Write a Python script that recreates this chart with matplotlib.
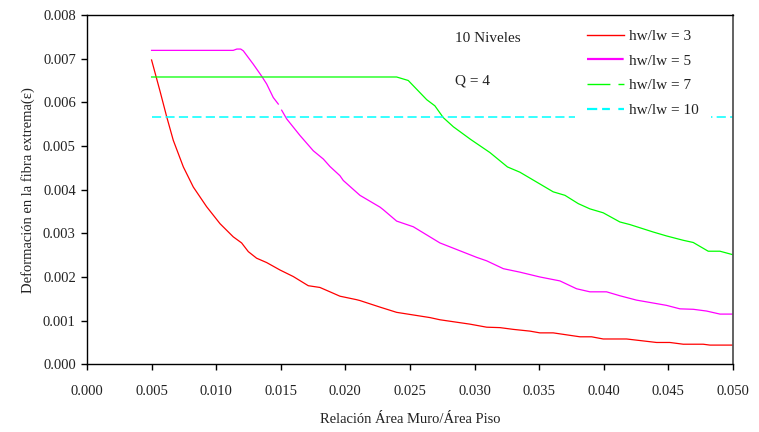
import numpy as np
import matplotlib
matplotlib.use("Agg")
import matplotlib.pyplot as plt
from matplotlib.lines import Line2D
from matplotlib.ticker import MultipleLocator, FormatStrFormatter

plt.rcParams['font.family'] = ['Liberation Serif', 'DejaVu Serif']

# Relación Área Muro / Área Piso vs deformación en la fibra extrema
x_hw3 = [0.0050, 0.00565, 0.00617, 0.00668, 0.00746, 0.00823, 0.00926, 0.0103,
         0.01132, 0.01197, 0.01249, 0.01313, 0.01391, 0.01494, 0.01597, 0.01713,
         0.01803, 0.01881, 0.01958, 0.02087, 0.02113, 0.02268, 0.02397, 0.02655,
         0.02732, 0.02964, 0.03094, 0.03197, 0.03300, 0.03429, 0.03506, 0.03609,
         0.03816, 0.03906, 0.03996, 0.04177, 0.04409, 0.04512, 0.04616, 0.04770,
         0.04822, 0.05000]
y_hw3 = [0.00697, 0.00626, 0.00567, 0.00513, 0.00452, 0.00406, 0.00361, 0.00322,
         0.00292, 0.00278, 0.00258, 0.00243, 0.00233, 0.00216, 0.00201, 0.00180,
         0.00176, 0.00166, 0.00156, 0.00148, 0.00146, 0.00131, 0.00119, 0.00107,
         0.00102, 0.00092, 0.00085, 0.00084, 0.00080, 0.00076, 0.00072, 0.00072,
         0.00063, 0.00063, 0.00058, 0.00058, 0.00050, 0.00050, 0.00046, 0.00046,
         0.00044, 0.00044]

x_hw5 = [0.0050, 0.01132, 0.0116, 0.0119, 0.0121, 0.01288, 0.01352, 0.01391,
         0.01442, 0.01481, 0.01494, 0.01507, 0.01546, 0.01649, 0.01752, 0.0183,
         0.01881, 0.01958, 0.01984, 0.02113, 0.02268, 0.02294, 0.02397, 0.02526,
         0.02732, 0.02887, 0.03016, 0.03094, 0.03223, 0.03352, 0.03506, 0.03661,
         0.0379, 0.03893, 0.04022, 0.04125, 0.04254, 0.04409, 0.04486, 0.0459,
         0.04693, 0.04796, 0.049, 0.0500]
y_hw5 = [0.00719, 0.00719, 0.00722, 0.00722, 0.00718, 0.00687, 0.0066, 0.00642,
         0.00611, 0.00596, np.nan, 0.00582, 0.00562, 0.00524, 0.00489, 0.0047,
         0.00453, 0.00432, 0.00421, 0.00387, 0.0036, 0.00354, 0.00328, 0.00315,
         0.00278, 0.0026, 0.00245, 0.00237, 0.00219, 0.00211, 0.0020, 0.00191,
         0.00173, 0.00166, 0.00166, 0.00157, 0.00147, 0.00139, 0.00135, 0.00127,
         0.00126, 0.00122, 0.00115, 0.00115]

x_hw7 = [0.0050, 0.02397, 0.02487, 0.02565, 0.0263, 0.02693, 0.02758, 0.02836,
         0.0297, 0.03119, 0.03255, 0.03351, 0.03506, 0.03609, 0.0370, 0.03803,
         0.03893, 0.03996, 0.04125, 0.04203, 0.04383, 0.04486, 0.04616, 0.04693,
         0.04809, 0.0490, 0.0500]
y_hw7 = [0.00658, 0.00658, 0.0065, 0.00626, 0.00606, 0.00592, 0.00565, 0.00544,
         0.00515, 0.00485, 0.00452, 0.0044, 0.00413, 0.00395, 0.00387, 0.00368,
         0.00356, 0.00347, 0.00326, 0.0032, 0.00303, 0.00294, 0.00284, 0.00279,
         0.00259, 0.00259, 0.00251]

x_hw10 = [0.0050, 0.0500]
y_hw10 = [0.00566, 0.00566]

labels = ["hw/lw = 3", "hw/lw = 5", "hw/lw = 7", "hw/lw = 10"]
colors = ["#ff0000", "#ff00ff", "#00ff00", "#00ffff"]

fig = plt.figure(figsize=(7.59, 4.32), dpi=100)
ax = fig.add_axes([0.1146, 0.1567, 0.851, 0.8086])

ax.plot(x_hw3, y_hw3, color=colors[0], lw=0.9)
ax.plot(x_hw5, y_hw5, color=colors[1], lw=0.9)
ax.plot(x_hw7, y_hw7, color=colors[2], lw=0.9)
ax.plot(x_hw10, y_hw10, color=colors[3], lw=1.1, dashes=(6.0, 2.8))

ax.set_xlim(0.0, 0.05)
ax.set_ylim(0.0, 0.008)
ax.xaxis.set_major_locator(MultipleLocator(0.005))
ax.yaxis.set_major_locator(MultipleLocator(0.001))
ax.xaxis.set_major_formatter(FormatStrFormatter('%.3f'))
ax.yaxis.set_major_formatter(FormatStrFormatter('%.3f'))
ax.tick_params(axis='x', direction='out', length=4, width=1, pad=11,
               labelsize=10.5, colors='#222222')
ax.tick_params(axis='y', direction='out', length=4.5, width=1, pad=3.5,
               labelsize=10.5, colors='#222222')
ax.tick_params(which='both', color='black')

for side in ['left', 'bottom', 'top']:
    ax.spines[side].set_color('black')
    ax.spines[side].set_linewidth(1.0)
ax.spines['right'].set_color('#555555')
ax.spines['right'].set_linewidth(1.3)

ax.set_xlabel("Relación Área Muro/Área Piso", fontsize=10.5, labelpad=10.5,
              color='#222222')
ax.set_ylabel("Deformación en la fibra extrema(ε)", fontsize=10.5, labelpad=6,
              color='#222222')

ax.text(0.570, 0.934, "10 Niveles", transform=ax.transAxes, fontsize=11,
        va='center', ha='left', color='#222222')
ax.text(0.570, 0.811, "Q = 4", transform=ax.transAxes, fontsize=11,
        va='center', ha='left', color='#222222')

handles = [
    Line2D([], [], color=colors[0], lw=1.0),
    Line2D([], [], color=colors[1], lw=1.6, dashes=(16.5, 20)),
    Line2D([], [], color=colors[2], lw=1.0, dashes=(16.5, 5.8, 4.3, 20)),
    Line2D([], [], color=colors[3], lw=1.6, dashes=(4.6, 2.2, 3.5, 3.8, 3.5, 20)),
]
leg = ax.legend(handles, labels, loc='upper left',
                bbox_to_anchor=(0.743, 1.016), fontsize=11,
                handlelength=2.42, handletextpad=0.35, labelspacing=0.72,
                borderpad=0.8, frameon=True, fancybox=False, framealpha=1.0)
leg.get_frame().set_facecolor('white')
leg.get_frame().set_edgecolor('none')
leg.set_zorder(2.2)
for t in leg.get_texts():
    t.set_color('#222222')

fig.savefig("out.png", dpi=100)
